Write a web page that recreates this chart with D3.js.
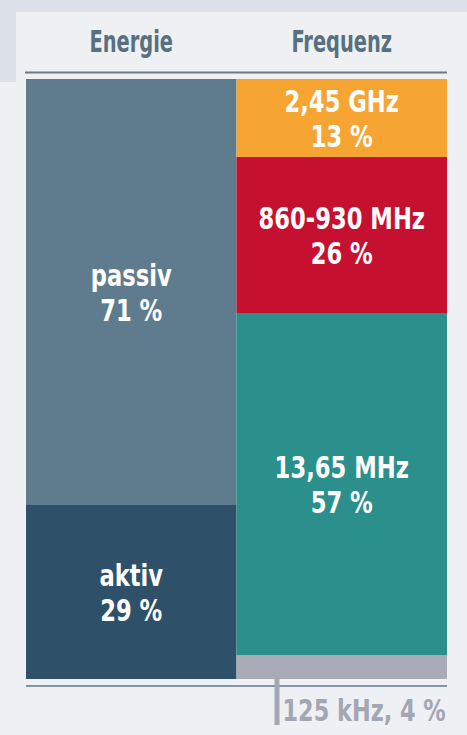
<!DOCTYPE html>
<html>
<head>
<meta charset="utf-8">
<script src="https://cdn.jsdelivr.net/npm/d3@7"></script>
<style>
  body { margin: 0; background: #eef0f4; }
  svg { display: block; }
  .lbl { font-family: "DejaVu Sans Condensed", "DejaVu Sans", sans-serif; font-weight: bold; }
</style>
</head>
<body>
<svg id="chart" width="467" height="735"></svg>
<script>
"use strict";

// columns
const columns = ["Energie", "Frequenz"];

// Energie
const energyNames = ["passiv", "aktiv"];
const energyValues = [71, 29];
const energyColors = ["#5f7c8e", "#2e5068"];

// Frequenz
const freqNames = ["2,45 GHz", "860-930 MHz", "13,65 MHz", "125 kHz"];
const freqValues = [13, 26, 57, 4];
const freqColors = ["#f6a533", "#c6102f", "#2b8f8c", "#a9abb7"];

const width = 467, height = 735;
const margin = {top: 79, right: 20, bottom: 55, left: 26};

const svg = d3.select("#chart");

// background blocks
svg.append("rect").attr("x", 0).attr("y", 0).attr("width", width).attr("height", 82).attr("fill", "#dde1ea");
svg.append("rect").attr("x", 16).attr("y", 12).attr("width", width - 16).attr("height", height - 12).attr("fill", "#eef0f4");

const x = d3.scaleBand()
    .domain(columns)
    .range([margin.left, width - margin.right])
    .padding(0);

const y = d3.scaleLinear()
    .domain([0, 100])
    .range([margin.top, height - margin.bottom - 1]);

function stack(names, values, colors) {
    let acc = 0;
    return names.map((n, i) => {
        const d = {name: n, value: values[i], color: colors[i], y0: acc, y1: acc + values[i]};
        acc += values[i];
        return d;
    });
}

const groups = [
    {col: "Energie", segs: stack(energyNames, energyValues, energyColors)},
    {col: "Frequenz", segs: stack(freqNames, freqValues, freqColors)}
];

// column titles
svg.selectAll(".title")
    .data(columns)
    .enter().append("text")
    .attr("class", "lbl")
    .attr("transform", d => "translate(" + (x(d) + x.bandwidth() / 2) + ",52) scale(0.72,1)")
    .attr("text-anchor", "middle")
    .attr("fill", "#587080")
    .style("font-size", "30px")
    .text(d => d);

// header rule
svg.append("line")
    .attr("x1", x.range()[0] - 1).attr("x2", x.range()[1])
    .attr("y1", 72.5).attr("y2", 72.5)
    .attr("stroke", "#6b7b88").attr("stroke-width", 2);

groups.forEach(g => {
    const col = svg.append("g");
    col.selectAll("rect")
        .data(g.segs)
        .enter().append("rect")
        .attr("x", x(g.col))
        .attr("width", x.bandwidth())
        .attr("y", d => y(d.y0))
        .attr("height", d => y(d.y1) - y(d.y0))
        .attr("fill", d => d.color);

    const inside = g.segs.filter(d => d.value >= 10);
    const t = col.selectAll(".seg")
        .data(inside)
        .enter().append("text")
        .attr("class", "lbl")
        .attr("fill", "#ffffff")
        .attr("text-anchor", "middle")
        .style("font-size", "30px")
        .attr("transform", d => "translate(" + (x(g.col) + x.bandwidth() / 2) + "," + ((y(d.y0) + y(d.y1)) / 2 - 6) + ") scale(0.84,1)");
    t.append("tspan").attr("x", 0).attr("y", 0).text(d => d.name);
    t.append("tspan").attr("x", 0).attr("y", 35).text(d => d.value + " %");
});

// bottom rule
const base = y(100);
svg.append("line")
    .attr("x1", x.range()[0]).attr("x2", x.range()[1])
    .attr("y1", base + 7).attr("y2", base + 7)
    .attr("stroke", "#8196ab").attr("stroke-width", 2);

// small segment callout
const small = groups[1].segs.filter(d => d.value < 10);
small.forEach(d => {
    const cx = x("Frequenz") + 40;
    svg.append("rect")
        .attr("x", cx - 2).attr("y", y(d.y1))
        .attr("width", 5).attr("height", 46)
        .attr("fill", "#a3a6b3");
    svg.append("text")
        .attr("class", "lbl")
        .attr("fill", "#a3a6b3")
        .style("font-size", "30px")
        .attr("transform", "translate(" + (cx + 6) + "," + (y(d.y1) + 42) + ") scale(0.83,1)")
        .text(d.name + ", " + d.value + " %");
});
</script>
</body>
</html>
